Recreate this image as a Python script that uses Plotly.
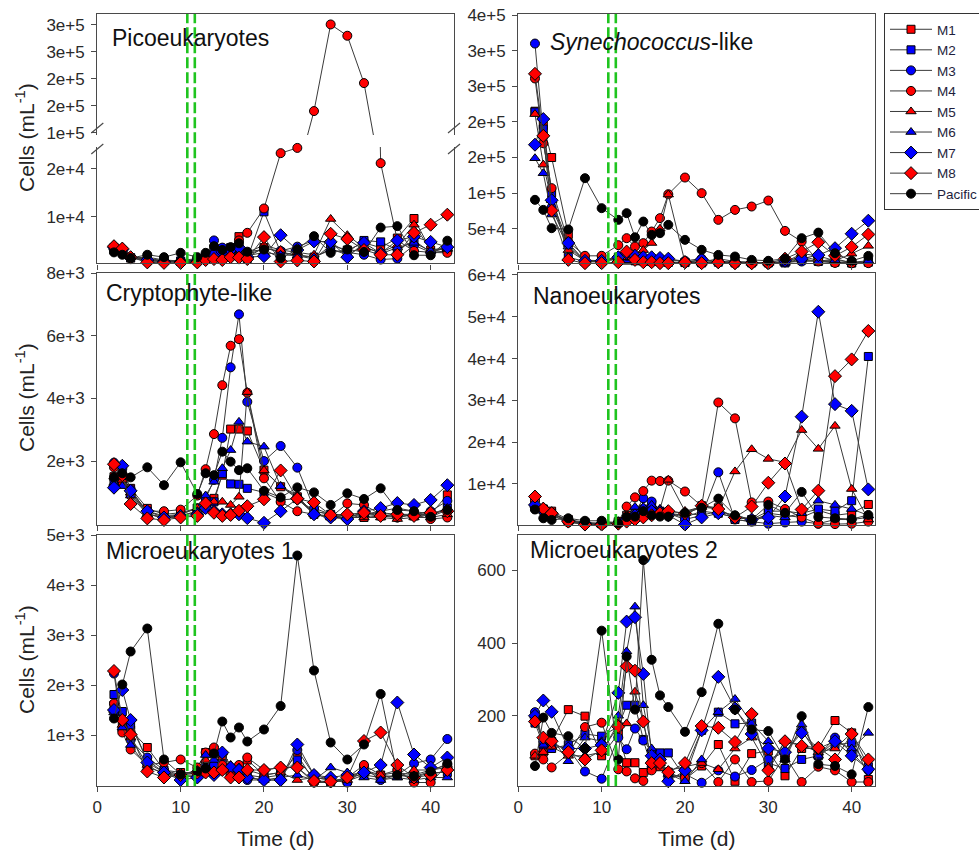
import plotly.graph_objects as go

# ---------------- data ----------------
T = [2, 3, 4, 6, 8, 10, 12, 13, 14, 15, 16, 17, 18, 20, 22, 24, 26, 28, 30, 32, 34, 36, 38, 40, 42]
SERIES = ["M1", "M2", "M3", "M4", "M5", "M6", "M7", "M8", "Pacific"]
GREEN_T = [10.8, 11.7]

PICO = {
    "M1": [3500, 2800, 1300, 1500, 900, 700, 800, 1200, 2000, 2500, 3200, 5800, 1500, 3500, 2500, 1800, 1100, 4000, 3000, 4500, 3500, 5500, 9600, 3000, 3500],
    "M2": [3000, 2500, 1400, 1200, 800, 600, 1000, 1500, 2500, 3000, 3500, 2800, 1200, 11000, 2500, 2000, 1500, 3000, 2500, 5000, 4700, 3000, 5000, 2500, 3500],
    "M3": [3200, 2700, 1500, 1000, 700, 800, 1200, 2000, 5000, 3500, 3000, 3500, 2000, 3300, 2800, 3700, 5000, 4500, 2500, 2000, 1000, 1200, 4000, 2500, 2800],
    "M4": [3700, 3000, 1500, 600, 500, 500, 600, 900, 1500, 1800, 3500, 5000, 6600, 11700, 23300, 24400, 140000, 301000, 280000, 192000, 21200, 5000, 2800, 2500, 2400],
    "M5": [3900, 3000, 1600, 900, 600, 700, 800, 1200, 2000, 2500, 2800, 3000, 2500, 4000, 3000, 2500, 2000, 9500, 6100, 3500, 2500, 4000, 8300, 3000, 3200],
    "M6": [3500, 2800, 1500, 1000, 700, 600, 900, 1500, 2200, 2600, 3000, 3200, 1800, 2500, 2000, 1800, 1500, 3200, 2000, 3800, 2200, 3500, 4500, 2800, 3400],
    "M7": [3600, 3100, 1400, 900, 600, 500, 700, 1000, 2000, 2600, 3000, 3500, 1500, 1700, 6100, 3000, 4800, 4700, 1500, 4500, 2300, 5000, 5800, 4700, 3600],
    "M8": [3800, 3300, 1500, 400, 300, 300, 400, 900, 1100, 900, 1500, 1400, 1100, 5700, 600, 800, 600, 6400, 5300, 3000, 2000, 2000, 6600, 8300, 10400],
    "Pacific": [2500, 2000, 1300, 2000, 1500, 2400, 1500, 2400, 3800, 3000, 3600, 4400, 2640, 3100, 1300, 3100, 5900, 2400, 3100, 2600, 7700, 8000, 1900, 1900, 4950],
}
SYN = {
    "M1": [215000, 195000, 150000, 42000, 6000, 5000, 7000, 6000, 5000, 5000, 4000, 4000, 3000, 2500, 3000, 8000, 4000, 3000, 2000, 3000, 12000, 5000, 3000, 2000, 3000],
    "M2": [214000, 190000, 100000, 10000, 4000, 4000, 10000, 8000, 6000, 5000, 5000, 4000, 3000, 3000, 2000, 3000, 2000, 2000, 2500, 2000, 6000, 4000, 8000, 2000, 4000],
    "M3": [310000, 180000, 80000, 27000, 5000, 4000, 10000, 12000, 10000, 9000, 9000, 8000, 7000, 5000, 8000, 3000, 2000, 1500, 2000, 3000, 4000, 5000, 3000, 2000, 3000],
    "M4": [261000, 170000, 107000, 32000, 12000, 12000, 27000, 36800, 25000, 29800, 46100, 64900, 98500, 121900, 100000, 62500, 76500, 81200, 89600, 47000, 32000, 4000, 2000, 1500, 1700],
    "M5": [211000, 140000, 90000, 20000, 5000, 4000, 8000, 10000, 15000, 20000, 30000, 50000, 98000, 3000, 2000, 4000, 3000, 2000, 2000, 3000, 15000, 12000, 5000, 15000, 26000],
    "M6": [149000, 128000, 70000, 25000, 4000, 4000, 12000, 14000, 10000, 9000, 8000, 7000, 6000, 5000, 3000, 4000, 3000, 2000, 2000, 2000, 8000, 4000, 6000, 3000, 5000],
    "M7": [168000, 204000, 90000, 30000, 5000, 5000, 10000, 16000, 12000, 10000, 10000, 9000, 8000, 3000, 7000, 3000, 2000, 2000, 1500, 5000, 8000, 13000, 22700, 43000, 61300],
    "M8": [267500, 180400, 75500, 6300, 1700, 1700, 3000, 18000, 6300, 3000, 3000, 1700, 1700, 3000, 1700, 3000, 1700, 1500, 1500, 8000, 18000, 31000, 12000, 24500, 42000],
    "Pacific": [90600, 76500, 50800, 49000, 121000, 78900, 62500, 71900, 38000, 60100, 41400, 43800, 55500, 34400, 20400, 13300, 11000, 6300, 5000, 8000, 36800, 44600, 15700, 5000, 11900],
}
CRYPTO = {
    "M1": [1500, 1300, 1130, 490, 300, 350, 500, 700, 810, 1550, 3020, 3020, 2960, 1710, 1180, 860, 300, 250, 200, 200, 250, 300, 250, 300, 920],
    "M2": [1300, 1500, 1000, 400, 250, 300, 500, 600, 700, 1600, 1270, 1260, 1130, 1000, 760, 800, 400, 300, 250, 300, 350, 300, 300, 250, 500],
    "M3": [1950, 1750, 1100, 350, 150, 250, 400, 800, 1400, 2740, 4990, 6680, 3890, 2000, 2480, 1790, 500, 300, 150, 300, 250, 200, 300, 400, 730],
    "M4": [1800, 1500, 900, 400, 400, 450, 900, 1740, 2860, 4420, 5680, 5890, 4180, 1450, 700, 400, 300, 200, 650, 600, 300, 200, 300, 150, 200],
    "M5": [1500, 1400, 1000, 300, 200, 300, 500, 600, 700, 700, 600, 860, 4200, 1700, 1200, 900, 300, 200, 200, 200, 200, 150, 200, 200, 300],
    "M6": [1300, 1200, 900, 300, 200, 250, 400, 900, 1340, 1770, 2350, 3250, 2620, 2460, 1200, 800, 400, 300, 250, 300, 400, 500, 400, 300, 500],
    "M7": [1150, 1850, 1050, 400, 200, 250, 300, 500, 400, 300, 300, 300, 180, 30, 400, 800, 300, 200, 150, 400, 500, 660, 600, 760, 1230],
    "M8": [1900, 1550, 630, 170, 120, 200, 250, 650, 350, 250, 280, 415, 560, 780, 1700, 800, 680, 280, 300, 350, 250, 300, 250, 350, 400],
    "Pacific": [1480, 1610, 1480, 1800, 1230, 1960, 950, 1610, 1550, 2300, 1980, 1710, 1770, 1050, 840, 1160, 1000, 600, 970, 790, 1130, 440, 400, 220, 440],
}
NANO = {
    "M1": [5500, 4000, 3500, 1500, 800, 600, 1000, 2500, 3000, 3500, 3000, 3200, 3000, 2500, 4800, 4300, 1500, 1000, 3000, 2500, 2000, 3700, 2500, 3000, 5100],
    "M2": [4500, 4000, 3000, 1200, 700, 500, 800, 2000, 2500, 4000, 4500, 3500, 3000, 2000, 3500, 3000, 2000, 1500, 3500, 3500, 3000, 4000, 3500, 6000, 40500],
    "M3": [4000, 3500, 2500, 1000, 600, 400, 700, 2000, 3000, 6600, 5800, 3500, 3000, 1500, 2500, 12800, 1500, 1000, 500, 800, 1000, 500, 1500, 1500, 2000],
    "M4": [6000, 4000, 2500, 800, 400, 300, 1000, 4600, 6800, 8300, 10800, 10700, 10800, 8200, 4700, 29500, 25700, 5600, 5800, 4000, 2000, 500, 400, 500, 1000],
    "M5": [5500, 4500, 3000, 1000, 500, 300, 800, 2500, 3000, 3500, 3800, 4000, 11000, 3500, 4500, 4000, 13000, 18300, 16000, 15200, 22900, 18400, 23900, 8800, 1500],
    "M6": [5000, 4500, 3000, 1200, 600, 400, 800, 2000, 4500, 4500, 5000, 4000, 3500, 3000, 2500, 3500, 2500, 1500, 2500, 2000, 3000, 6000, 5000, 4000, 2500],
    "M7": [5000, 4000, 3000, 1200, 600, 400, 600, 1500, 2500, 3000, 3500, 3000, 2500, 300, 2000, 3000, 2000, 1500, 2000, 7000, 26100, 51200, 29100, 27500, 8700],
    "M8": [7000, 4100, 3000, 1000, 300, 300, 500, 1000, 1500, 2000, 2500, 3000, 3500, 3000, 4800, 4000, 2000, 4600, 10300, 14900, 3900, 8400, 35800, 39800, 46600],
    "Pacific": [3900, 1800, 1400, 1800, 1200, 1200, 600, 2100, 2200, 3500, 2500, 2200, 2200, 3100, 4300, 6500, 2500, 1500, 5000, 3100, 8100, 2100, 1800, 1600, 2600],
}
MICRO1 = {
    "M1": [1600, 1250, 1100, 750, 300, 250, 250, 650, 700, 600, 300, 350, 500, 200, 250, 600, 80, 50, 100, 300, 200, 250, 200, 300, 350],
    "M2": [1810, 1470, 1200, 500, 250, 200, 200, 350, 400, 450, 250, 300, 200, 150, 200, 500, 150, 100, 80, 200, 150, 200, 150, 250, 250],
    "M3": [2230, 1100, 900, 550, 300, 200, 150, 300, 400, 350, 200, 250, 100, 100, 100, 700, 200, 100, 50, 350, 100, 200, 430, 510, 920],
    "M4": [1630, 1050, 710, 400, 450, 510, 350, 650, 750, 400, 200, 400, 550, 300, 350, 350, 50, 50, 150, 400, 200, 300, 50, 50, 400],
    "M5": [1500, 1200, 950, 400, 200, 200, 300, 500, 600, 550, 350, 300, 300, 200, 250, 100, 150, 100, 100, 250, 200, 150, 300, 300, 400],
    "M6": [1450, 1150, 800, 350, 250, 150, 200, 600, 500, 650, 400, 350, 150, 100, 150, 200, 100, 350, 250, 150, 100, 150, 100, 150, 150],
    "M7": [1500, 1900, 1300, 450, 250, 100, 150, 300, 200, 650, 350, 300, 150, 100, 100, 810, 200, 150, 200, 250, 400, 1650, 610, 350, 550],
    "M8": [2280, 1300, 1010, 270, 150, 200, 250, 250, 250, 300, 150, 150, 300, 300, 350, 350, 80, 70, 150, 880, 1050, 400, 150, 200, 300],
    "Pacific": [1330, 2010, 2670, 3130, 510, 210, 270, 330, 630, 1270, 950, 1150, 870, 1110, 1580, 4590, 2290, 850, 510, 810, 1820, 200, 170, 270, 430],
}
MICRO2 = {
    "M1": [90, 100, 130, 217, 199, 90, 150, 71, 71, 44, 60, 60, 45, 25, 62, 121, 20, 96, 103, 35, 110, 110, 187, 153, 25],
    "M2": [180, 120, 110, 120, 150, 144, 170, 229, 229, 135, 98, 98, 98, 30, 160, 210, 178, 180, 70, 55, 80, 90, 120, 126, 60],
    "M3": [210, 130, 120, 110, 47, 27, 140, 108, 165, 132, 60, 70, 30, 40, 16, 50, 33, 51, 80, 100, 160, 90, 140, 100, 50],
    "M4": [96, 80, 58, 95, 169, 181, 53, 47, 28, 21, 50, 70, 40, 30, 70, 18, 80, 18, 21, 90, 18, 60, 50, 18, 18],
    "M5": [90, 100, 115, 90, 90, 100, 180, 179, 266, 184, 80, 70, 50, 60, 70, 53, 110, 140, 60, 130, 120, 100, 110, 153, 60],
    "M6": [200, 120, 140, 75, 140, 130, 200, 377, 500, 229, 110, 70, 40, 20, 80, 210, 246, 180, 130, 80, 176, 90, 130, 110, 153],
    "M7": [200, 242, 211, 110, 110, 120, 263, 459, 471, 315, 90, 80, 20, 50, 160, 307, 220, 150, 110, 100, 153, 110, 130, 90, 53],
    "M8": [184, 140, 130, 100, 80, 105, 170, 336, 324, 184, 70, 70, 45, 70, 172, 167, 128, 205, 50, 130, 117, 112, 80, 150, 80],
    "Pacific": [62, 195, 153, 144, 110, 434, 80, 363, 217, 628, 354, 256, 224, 156, 265, 453, 217, 162, 158, 80, 199, 67, 62, 39, 224],
}

X_TICKS = [0, 10, 20, 30, 40]
PICO_LO_TICKS = [10000, 20000]
PICO_LO_LABELS = ["1e+4", "2e+4"]
PICO_HI_TICKS = [100000, 150000, 200000, 250000, 300000]
PICO_HI_LABELS = ["1e+5", "2e+5", "2e+5", "3e+5", "3e+5"]
SYN_TICKS = [50000, 100000, 150000, 200000, 250000, 300000, 350000]
SYN_LABELS = ["5e+4", "1e+5", "2e+5", "2e+5", "3e+5", "3e+5", "4e+5"]
CRYPTO_TICKS = [2000, 4000, 6000, 8000]
CRYPTO_LABELS = ["2e+3", "4e+3", "6e+3", "8e+3"]
NANO_TICKS = [10000, 20000, 30000, 40000, 50000, 60000]
NANO_LABELS = ["1e+4", "2e+4", "3e+4", "4e+4", "5e+4", "6e+4"]
MICRO1_TICKS = [1000, 2000, 3000, 4000, 5000]
MICRO1_LABELS = ["1e+3", "2e+3", "3e+3", "4e+3", "5e+3"]
MICRO2_TICKS = [200, 400, 600]
MICRO2_LABELS = ["200", "400", "600"]

# ---------------- styles ----------------
W, H = 979, 851
FONT = "Liberation Sans, Arial, sans-serif"
AXC = "#4a4a4a"
LINEC = "#3a3a3a"
GREEN = "#1fc41f"
STYLE = {
    "M1": ("#ff0000", "square", 8),
    "M2": ("#0000ff", "square", 8),
    "M3": ("#0000ff", "circle", 9),
    "M4": ("#ff0000", "circle", 9),
    "M5": ("#ff0000", "triangle-up", 9),
    "M6": ("#0000ff", "triangle-up", 9),
    "M7": ("#0000ff", "diamond", 10),
    "M8": ("#ff0000", "diamond", 10),
    "Pacific": ("#000000", "circle", 9),
}


def px_x(p):
    return p / W


def px_y(p):
    return 1 - p / H


LX = [px_x(97.3), px_x(454)]
RX = [px_x(518.3), px_x(875)]
TOP = [px_y(263.3), px_y(14)]
MID = [px_y(525), px_y(273)]
BOT = [px_y(786), px_y(535)]
PICO_LO = [px_y(263.3), px_y(147)]
PICO_HI = [px_y(135), px_y(14)]
XR = [0, 42.8]

fig = go.Figure()

panels = [
    (PICO, "x", "y", [210, 24590], False),
    (PICO, "x7", "y7", [95500, 320400], False),
    (SYN, "x2", "y2", [1500, 351500], True),
    (CRYPTO, "x3", "y3", [-40, 8000], False),
    (NANO, "x4", "y4", [190, 60470], False),
    (MICRO1, "x5", "y5", [-20, 5000], False),
    (MICRO2, "x6", "y6", [7, 697], False),
]

for data, xa, ya, yr, legend in panels:
    for s in SERIES:
        col, sym, size = STYLE[s]
        vals = data[s]
        op = [1 if yr[0] - 1e-9 <= v <= yr[1] else 0 for v in vals]
        fig.add_trace(go.Scatter(
            x=T, y=vals, mode="lines+markers", name=s,
            line=dict(color=LINEC, width=1),
            marker=dict(symbol=sym, size=size, color=col, opacity=op,
                        line=dict(color="#000000", width=1)),
            cliponaxis=False, showlegend=legend, xaxis=xa, yaxis=ya,
            hoverinfo="skip",
        ))

tickfont = dict(family=FONT, size=17, color="#2a2a2a")
base = dict(showgrid=False, zeroline=False, showline=True, linecolor=AXC, linewidth=1.4,
            ticks="outside", ticklen=5, tickwidth=1.2, tickcolor=AXC, tickfont=tickfont)


def xax(domain, anchor, labels, mirror=True):
    return dict(base, domain=domain, anchor=anchor, range=XR, tickvals=X_TICKS,
                showticklabels=labels, mirror=mirror)


def yax(domain, anchor, rng, tv, tt):
    return dict(base, domain=domain, anchor=anchor, range=rng, tickvals=tv, ticktext=tt,
                mirror=True, ticklabelstandoff=3)


layout = dict(
    width=W, height=H, margin=dict(l=0, r=0, t=0, b=0, autoexpand=False),
    paper_bgcolor="white", plot_bgcolor="white",
    font=dict(family=FONT, color="#222"),
    xaxis=xax(LX, "y", False, mirror=False),
    yaxis=yax(PICO_LO, "x", [210, 24590], PICO_LO_TICKS, PICO_LO_LABELS),
    xaxis7=dict(domain=LX, anchor="y7", range=XR, side="top", showline=True, linecolor=AXC,
                linewidth=1.4, ticks="", showticklabels=False, showgrid=False, zeroline=False,
                matches="x"),
    yaxis7=yax(PICO_HI, "x7", [95500, 320400], PICO_HI_TICKS, PICO_HI_LABELS),
    xaxis2=xax(RX, "y2", False),
    yaxis2=yax(TOP, "x2", [1500, 351500], SYN_TICKS, SYN_LABELS),
    xaxis3=xax(LX, "y3", False),
    yaxis3=yax(MID, "x3", [-40, 8000], CRYPTO_TICKS, CRYPTO_LABELS),
    xaxis4=xax(RX, "y4", False),
    yaxis4=yax(MID, "x4", [190, 60470], NANO_TICKS, NANO_LABELS),
    xaxis5=xax(LX, "y5", True),
    yaxis5=yax(BOT, "x5", [-20, 5000], MICRO1_TICKS, MICRO1_LABELS),
    xaxis6=xax(RX, "y6", True),
    yaxis6=yax(BOT, "x6", [7, 697], MICRO2_TICKS, MICRO2_LABELS),
    legend=dict(x=px_x(884), y=px_y(13), xanchor="left", yanchor="top", xref="paper", yref="paper",
                bordercolor="#333333", borderwidth=1, bgcolor="white", itemwidth=42,
                font=dict(family=FONT, size=13.5, color="#1e1e3c"), traceorder="normal",
                itemclick=False, itemdoubleclick=False),
    showlegend=True,
)
fig.update_layout(**layout)

shapes = []
for gx in GREEN_T:
    shapes.append(dict(type="line", xref="x", yref="paper", x0=gx, x1=gx, y0=TOP[0], y1=TOP[1],
                       line=dict(color=GREEN, width=2.6, dash="11px,4px"), layer="above"))
    for xa, dom in [("x2", TOP), ("x3", MID), ("x4", MID), ("x5", BOT), ("x6", BOT)]:
        shapes.append(dict(type="line", xref=xa, yref="paper", x0=gx, x1=gx, y0=dom[0], y1=dom[1],
                           line=dict(color=GREEN, width=2.6, dash="11px,4px"), layer="above"))

for bx in (97.3, 454):
    for yb in (133, 154):
        shapes.append(dict(type="line", xref="paper", yref="paper",
                           x0=px_x(bx - 6), y0=px_y(yb), x1=px_x(bx + 6), y1=px_y(yb - 10),
                           line=dict(color=AXC, width=1.2)))
fig.update_layout(shapes=shapes)

ann = []
titles = [
    ("Picoeukaryotes", 110, 38),
    ("<i>Synechococcus</i>-like", 547.7, 41.7),
    ("Cryptophyte-like", 104, 293.3),
    ("Nanoeukaryotes", 531, 296),
    ("Microeukaryotes 1", 104, 551),
    ("Microeukaryotes 2", 528.3, 550),
]
for txt, x0, yc in titles:
    ann.append(dict(text=txt, xref="paper", yref="paper", x=px_x(x0), y=px_y(yc),
                    xanchor="left", yanchor="middle", showarrow=False,
                    font=dict(family=FONT, size=23, color="#111")))
for yc in (138, 398, 660):
    ann.append(dict(text="Cells (mL<sup>-1</sup>)", xref="paper", yref="paper",
                    x=px_x(25), y=px_y(yc), textangle=-90, xanchor="center", yanchor="middle",
                    showarrow=False, font=dict(family=FONT, size=21, color="#222")))
for xc in ((97.3 + 454) / 2, (518.3 + 875) / 2):
    ann.append(dict(text="Time (d)", xref="paper", yref="paper", x=px_x(xc), y=px_y(838),
                    xanchor="center", yanchor="middle", showarrow=False,
                    font=dict(family=FONT, size=21, color="#222")))
fig.update_layout(annotations=ann)

fig.write_html("out.html")
